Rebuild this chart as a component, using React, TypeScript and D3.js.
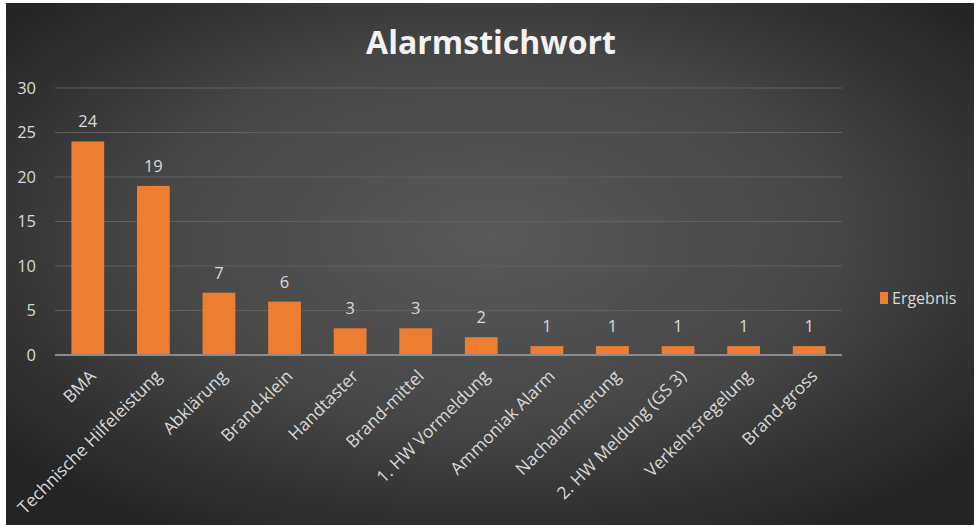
import { useEffect, useRef } from "react"
import * as d3 from "d3"

const categories = [
  "BMA",
  "Technische Hilfeleistung",
  "Abklärung",
  "Brand-klein",
  "Handtaster",
  "Brand-mittel",
  "1. HW Vormeldung",
  "Ammoniak Alarm",
  "Nachalarmierung",
  "2. HW Meldung (GS 3)",
  "Verkehrsregelung",
  "Brand-gross",
]
const values = [24, 19, 7, 6, 3, 3, 2, 1, 1, 1, 1, 1]
const yTicks = [0, 5, 10, 15, 20, 25, 30]
const seriesName = "Ergebnis"
const title = "Alarmstichwort"

const W = 979
const H = 525
const FONT = "'Open Sans', 'Noto Sans', sans-serif"

const App = () => {
  const ref = useRef<SVGSVGElement>(null)

  useEffect(() => {
    document.body.style.margin = "0"
    if (!ref.current) return
    const svg = d3.select(ref.current)
    svg.selectAll("*").remove()

    const defs = svg.append("defs")
    const grad = defs
      .append("radialGradient")
      .attr("id", "bg")
      .attr("cx", "50%")
      .attr("cy", "45%")
      .attr("r", "65%")
    grad.append("stop").attr("offset", "0%").attr("stop-color", "#5a5a5a")
    grad.append("stop").attr("offset", "55%").attr("stop-color", "#464646")
    grad.append("stop").attr("offset", "100%").attr("stop-color", "#242424")

    svg.append("rect").attr("width", W).attr("height", H).attr("fill", "#fff")
    svg
      .append("rect")
      .attr("x", 6)
      .attr("y", 3)
      .attr("width", 968)
      .attr("height", H - 3)
      .attr("fill", "url(#bg)")

    const x = d3
      .scaleBand<string>()
      .domain(categories)
      .range([55, 842])
      .paddingInner(0.5)
      .paddingOuter(0.25)
    const y = d3.scaleLinear().domain([0, 30]).range([355, 88])

    // gridlines
    svg
      .append("g")
      .selectAll("line")
      .data(yTicks.filter((t) => t > 0))
      .join("line")
      .attr("x1", 55)
      .attr("x2", 842)
      .attr("y1", (d) => y(d))
      .attr("y2", (d) => y(d))
      .attr("stroke", "#616161")
      .attr("stroke-width", 1)

    // y tick labels
    svg
      .append("g")
      .selectAll("text")
      .data(yTicks)
      .join("text")
      .attr("x", 36)
      .attr("y", (d) => y(d))
      .attr("dy", "0.35em")
      .attr("text-anchor", "end")
      .attr("font-family", FONT)
      .attr("font-size", 16.5)
      .attr("fill", "#d9d9d9")
      .text((d) => d)

    // bars
    svg
      .append("g")
      .selectAll("rect")
      .data(values)
      .join("rect")
      .attr("x", (_, i) => x(categories[i])!)
      .attr("y", (d) => y(d))
      .attr("width", x.bandwidth())
      .attr("height", (d) => y(0) - y(d))
      .attr("fill", "#ed7d31")

    // value labels
    svg
      .append("g")
      .selectAll("text")
      .data(values)
      .join("text")
      .attr("x", (_, i) => x(categories[i])! + x.bandwidth() / 2)
      .attr("y", (d) => y(d) - 14)
      .attr("text-anchor", "middle")
      .attr("font-family", FONT)
      .attr("font-size", 16.5)
      .attr("fill", "#d9d9d9")
      .text((d) => d)

    // axis line
    svg
      .append("line")
      .attr("x1", 55)
      .attr("x2", 842)
      .attr("y1", y(0))
      .attr("y2", y(0))
      .attr("stroke", "#8c8c8c")
      .attr("stroke-width", 2)

    // x labels
    svg
      .append("g")
      .selectAll("text")
      .data(categories)
      .join("text")
      .attr(
        "transform",
        (d) => `translate(${x(d)! + x.bandwidth() / 2 + 5},${y(0) + 18}) rotate(-45)`
      )
      .attr("text-anchor", "end")
      .attr("dy", "0.35em")
      .attr("font-family", FONT)
      .attr("font-size", 17.3)
      .attr("fill", "#d9d9d9")
      .text((d) => d)

    // title
    svg
      .append("text")
      .attr("x", 491)
      .attr("y", 54)
      .attr("text-anchor", "middle")
      .attr("font-family", FONT)
      .attr("font-weight", "bold")
      .attr("font-size", 32)
      .attr("fill", "#f2f2f2")
      .text(title)

    // legend
    const lg = svg.append("g").attr("transform", "translate(880,298)")
    lg.append("rect")
      .attr("x", 0)
      .attr("y", -6)
      .attr("width", 8)
      .attr("height", 12)
      .attr("fill", "#ed7d31")
    lg.append("text")
      .attr("x", 12)
      .attr("dy", "0.35em")
      .attr("font-family", FONT)
      .attr("font-size", 16)
      .attr("fill", "#d9d9d9")
      .text(seriesName)
  }, [])

  return (
    <svg
      ref={ref}
      width={W}
      height={H}
      style={{ position: "absolute", left: 0, top: 0 }}
    />
  )
}

export default App
